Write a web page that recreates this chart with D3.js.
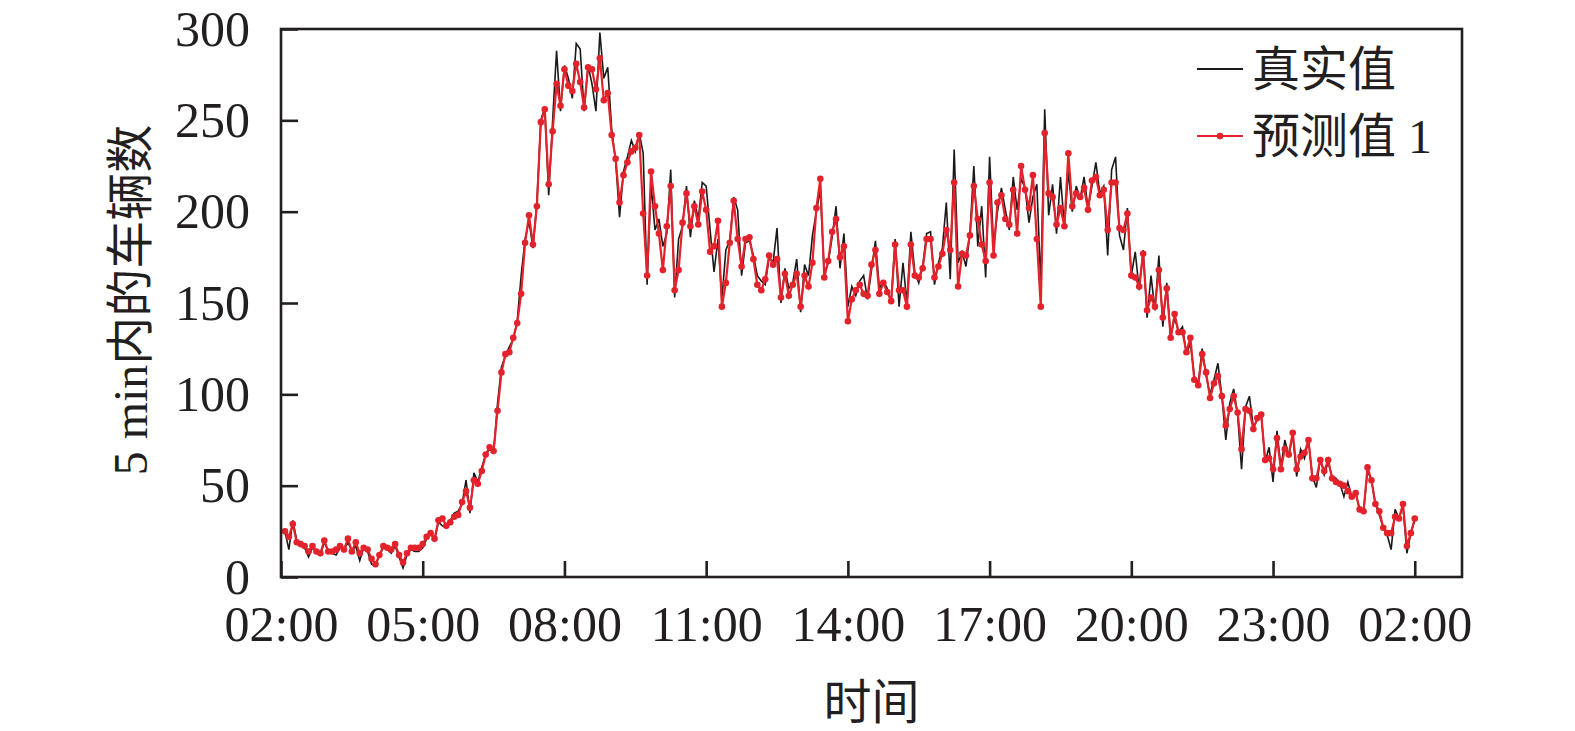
<!DOCTYPE html>
<html>
<head>
<meta charset="utf-8">
<script src="https://cdn.jsdelivr.net/npm/d3@7"></script>
<style>
    body { margin: 0; background: #fff; }
    svg text { font-family: 'Liberation Serif', 'Noto Sans CJK SC', serif; fill: #231f20; }
</style>
</head>
<body>
<svg id="chart" width="1575" height="731"></svg>
<script>
// 5 min 车流量: 02:05 ... 次日 02:00, 每 5 分钟一个点
const truth = [
    25, 15, 31, 20, 17, 16, 11, 16, 14, 12, 19, 14, 13, 12, 16, 15, 19, 14, 17, 9, 16, 14, 7, 6, 12, 16, 15, 13, 17, 11, 5, 12, 15, 14, 14, 16,
    21, 24, 20, 30, 28, 27, 31, 35, 36, 40, 53, 35, 57, 52, 60, 67, 70, 68, 95, 115, 121, 126, 130, 140, 165, 185, 195, 180, 205, 250, 257, 209, 250, 288, 255, 280,
    273, 262, 292, 289, 255, 280, 270, 255, 298, 273, 279, 245, 228, 197, 222, 230, 239, 233, 243, 232, 160, 215, 190, 196, 181, 188, 223, 153, 185, 192, 214, 186, 206, 196, 216,
    214, 190, 167, 185, 152, 179, 184, 208, 201, 165, 183, 184, 176, 165, 162, 160, 175, 172, 191, 150, 169, 158, 161, 174, 145, 171, 165, 187, 200, 212, 166, 172, 186, 203, 169,
    188, 148, 159, 154, 162, 165, 152, 168, 184, 158, 162, 158, 150, 185, 148, 172, 150, 189, 167, 161, 170, 188, 189, 160, 172, 180, 205, 163, 234, 172, 178, 170, 188, 225, 181, 203, 164,
    230, 181, 200, 213, 201, 190, 219, 201, 218, 213, 194, 208, 215, 160, 256, 198, 215, 188, 219, 192, 222, 200, 214, 207, 219, 202, 214, 227, 210, 214, 176, 223, 230, 187, 179,
    202, 165, 178, 157, 179, 142, 165, 146, 176, 137, 161, 131, 142, 134, 137, 122, 128, 110, 106, 125, 110, 100, 108, 117, 99, 75, 95, 103, 89, 59, 93, 99, 82, 86, 89, 63,
    71, 52, 80, 60, 75, 66, 78, 55, 70, 65, 75, 55, 49, 65, 56, 63, 55, 54, 51, 44, 52, 44, 46, 37, 36, 58, 53, 40, 34, 27, 23, 15, 37, 32, 39, 13, 24, 31
]

const pred1 = [
    25, 22, 29, 19, 18, 17, 14, 17, 14, 13, 20, 14, 14, 15, 17, 15, 21, 14, 19, 13, 16, 15, 10, 7, 12, 17, 16, 15, 18, 12, 8, 13, 16, 16, 16, 18,
    22, 24, 21, 31, 32, 28, 30, 33, 34, 41, 47, 38, 53, 51, 58, 67, 71, 69, 91, 112, 122, 123, 131, 139, 155, 183, 198, 182, 203, 249, 256, 215, 244, 270, 258, 278,
    269, 266, 281, 271, 257, 279, 278, 267, 284, 261, 265, 242, 229, 205, 220, 227, 233, 235, 242, 199, 165, 222, 203, 188, 168, 192, 214, 157, 168, 194, 210, 192, 203, 193, 211,
    201, 178, 181, 195, 148, 161, 183, 206, 185, 170, 185, 186, 174, 160, 157, 163, 176, 171, 174, 153, 166, 154, 160, 166, 148, 165, 159, 172, 202, 218, 164, 173, 189, 196, 175,
    181, 140, 152, 157, 160, 155, 154, 171, 179, 155, 161, 156, 151, 182, 157, 157, 148, 182, 165, 164, 169, 185, 185, 164, 170, 177, 190, 179, 216, 159, 177, 176, 187, 214, 196, 182, 173,
    216, 176, 205, 209, 196, 193, 212, 188, 225, 212, 202, 220, 185, 148, 243, 210, 208, 193, 202, 192, 232, 203, 210, 208, 213, 201, 217, 219, 209, 212, 190, 216, 216, 191, 190,
    199, 165, 164, 159, 177, 146, 153, 148, 168, 142, 158, 131, 144, 134, 134, 123, 131, 108, 105, 122, 112, 98, 106, 110, 99, 83, 92, 99, 90, 70, 92, 91, 81, 87, 89, 64,
    65, 59, 76, 59, 70, 67, 79, 59, 66, 68, 75, 54, 54, 64, 58, 64, 54, 52, 51, 50, 47, 44, 46, 37, 36, 60, 53, 40, 36, 27, 24, 24, 33, 32, 40, 17, 24, 32
]

// minutes after 02:00
const xTicks = [0, 180, 360, 540, 720, 900, 1080, 1260, 1440]
const xTickLabels = ['02:00', '05:00', '08:00', '11:00', '14:00', '17:00', '20:00', '23:00', '02:00']
const yTicks = [0, 50, 100, 150, 200, 250, 300]
const seriesNames = ['真实值', '预测值 1']

const RED = '#e3222b'
const BLACK = '#1a1a1a'

const createChart = () => {
    let margin = { top: 29, right: 113, bottom: 154, left: 281 }
    let w = 1575, h = 731

    let svg = d3.select('#chart')

    let x = d3.scaleLinear()
        .domain([0, 1500])
        .range([margin.left, w - margin.right])

    let y = d3.scaleLinear()
        .domain([0, 300])
        .range([h - margin.bottom, margin.top])

    let minutes = truth.map((d, i) => (i + 1) * 5)

    let line = d3.line()
        .x((d, i) => x(minutes[i]))
        .y(d => y(d))

    svg.append('path')
        .datum(truth)
        .attr('d', line)
        .style('fill', 'none')
        .style('stroke', BLACK)
        .style('stroke-width', 1.6)

    svg.append('path')
        .datum(pred1)
        .attr('d', line)
        .style('fill', 'none')
        .style('stroke', RED)
        .style('stroke-width', 2.2)

    svg.selectAll('circle.pred')
        .data(pred1)
        .enter().append('circle')
        .attr('class', 'pred')
        .attr('cx', (d, i) => x(minutes[i]))
        .attr('cy', d => y(d))
        .attr('r', 3.3)
        .style('fill', RED)

    // frame
    svg.append('rect')
        .attr('x', x(0))
        .attr('y', y(300))
        .attr('width', x(1500) - x(0))
        .attr('height', y(0) - y(300))
        .style('fill', 'none')
        .style('stroke', '#231f20')
        .style('stroke-width', 2.6)

    let xAxis = d3.axisBottom(x)
        .tickValues(xTicks)
        .tickFormat((d, i) => xTickLabels[i])
        .tickSizeInner(-16)
        .tickSizeOuter(0)
        .tickPadding(28)

    let yAxis = d3.axisLeft(y)
        .tickValues(yTicks)
        .tickSizeInner(-17)
        .tickSizeOuter(0)
        .tickPadding(31)

    let gx = svg.append('g')
        .attr('transform', `translate(0,${y(0)})`)
        .call(xAxis)
    let gy = svg.append('g')
        .attr('transform', `translate(${x(0)},0)`)
        .call(yAxis)

    ;[gx, gy].forEach(g => {
        g.select('.domain').remove()
        g.selectAll('line').style('stroke', '#231f20').style('stroke-width', 2.6)
        g.selectAll('text')
            .style('font-size', '50px')
            .style('font-family', "'Liberation Serif', serif")
            .style('fill', '#231f20')
    })

    svg.append('text')
        .attr('x', (x(0) + x(1500)) / 2)
        .attr('y', 702)
        .attr('text-anchor', 'middle')
        .attr('dominant-baseline', 'central')
        .style('font-size', '48px')
        .text('时间')

    svg.append('text')
        .attr('transform', 'translate(130,300) rotate(-90)')
        .attr('text-anchor', 'middle')
        .attr('dominant-baseline', 'central')
        .style('font-size', '48px')
        .text('5 min内的车辆数')

    // legend
    let legend = svg.append('g')
    let rows = [{ name: seriesNames[0], color: BLACK, dot: false, y: 69 },
                { name: seriesNames[1], color: RED, dot: true, y: 136 }]
    rows.forEach(r => {
        legend.append('line')
            .attr('x1', 1197).attr('x2', 1243)
            .attr('y1', r.y).attr('y2', r.y)
            .style('stroke', r.color)
            .style('stroke-width', r.dot ? 2.2 : 1.8)
        if (r.dot)
            legend.append('circle')
                .attr('cx', 1220).attr('cy', r.y).attr('r', 3.3)
                .style('fill', r.color)
        legend.append('text')
            .attr('x', 1252)
            .attr('y', r.y)
            .attr('dominant-baseline', 'central')
            .style('font-size', '48px')
            .text(r.name)
    })
}

createChart()
</script>
</body>
</html>
